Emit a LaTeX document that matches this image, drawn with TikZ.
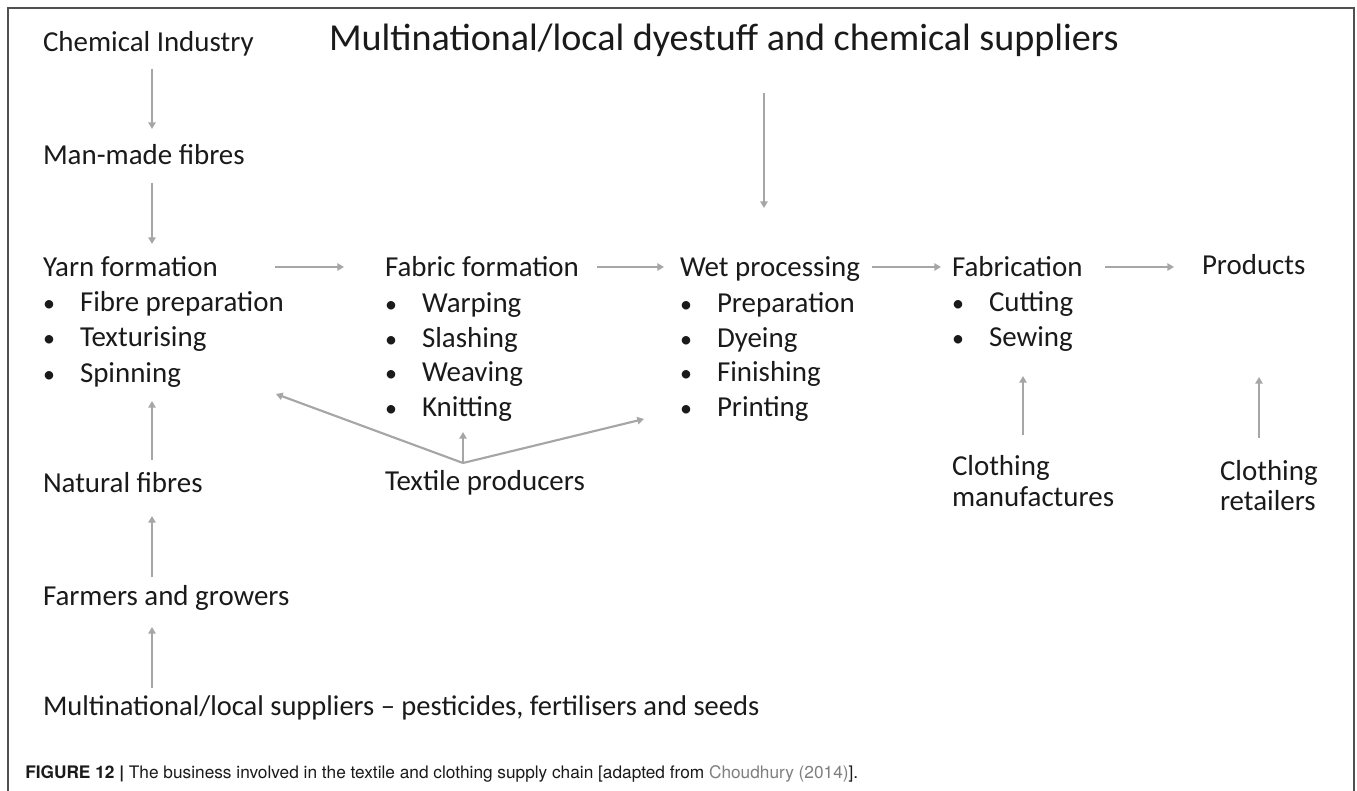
\documentclass[tikz,border=0pt]{standalone}
\usepackage{fontspec}
\setmainfont{Carlito}
\newfontfamily\capfont{TeX Gyre Heros}
\usetikzlibrary{arrows.meta}
\definecolor{arr}{HTML}{A6A6A6}
\definecolor{frm}{HTML}{505050}
\definecolor{txt}{HTML}{1A1A1A}
\definecolor{lnk}{HTML}{7F7F7F}
\tikzset{
  lbl/.style={anchor=base west, inner sep=0pt, outer sep=0pt, text=txt, font=\fontsize{21.7}{26}\selectfont},
  biglbl/.style={lbl, font=\fontsize{28.6}{34}\selectfont},
  bul/.style={anchor=base, inner sep=0pt, outer sep=0pt, text=txt, font=\fontsize{18}{22}\selectfont},
  flow/.style={draw=arr, line width=1.6pt, -{Triangle[length=5pt,width=5.5pt]}},
  capt/.style={anchor=base west, inner sep=0pt, font=\capfont\fontsize{12.95}{15}\selectfont, text=txt}
}
\newcommand{\bitem}[4]{%
  \node[bul] (#1b) at (#2+6,#3) {\textbullet};
  \node[lbl] (#1) at (#2+37,#3) {#4};}
\begin{document}
\begin{tikzpicture}[x=0.75pt,y=-0.75pt]
\useasboundingbox (0,0) rectangle (1357,791);
\fill[white] (0,0) rectangle (1357,791);
\draw[frm, line width=1.3pt] (8,795) -- (8,8) -- (1354,8) -- (1354,795);

% top-left column
\node[lbl] (chem) at (43,52) {Chemical Industry};
\node[lbl] (man) at (43,165) {Man-made fibres};
\node[lbl] (yarn) at (43,277) {Yarn formation};
\bitem{y1}{43}{312}{Fibre preparation}
\bitem{y2}{43}{347}{Texturising}
\bitem{y3}{43}{383}{Spinning}
\node[lbl] (nat) at (43,493) {Natural fibres};
\node[lbl] (farm) at (43,605) {Farmers and growers};
\node[lbl, font=\fontsize{21.4}{26}\selectfont] (msup) at (43,715) {Multinational/local suppliers -- pesticides, fertilisers and seeds};

% top middle
\node[biglbl] (dye) at (329,51) {Multinational/local dyestuff and chemical suppliers};

% fabric
\node[lbl] (fab) at (385,277) {Fabric formation};
\bitem{f1}{385}{313}{Warping}
\bitem{f2}{385}{348}{Slashing}
\bitem{f3}{385}{382}{Weaving}
\bitem{f4}{385}{417}{Knitting}
\node[lbl] (tex) at (385,490) {Textile producers};

% wet
\node[lbl] (wet) at (680,277) {Wet processing};
\bitem{w1}{680}{313}{Preparation}
\bitem{w2}{680}{348}{Dyeing}
\bitem{w3}{680}{382}{Finishing}
\bitem{w4}{680}{417}{Printing}

% fabrication
\node[lbl] (fabr) at (952,277) {Fabrication};
\bitem{c1}{952}{312}{Cutting}
\bitem{c2}{952}{347}{Sewing}
\node[lbl] (cman) at (952,475) {Clothing};
\node[lbl] (cman2) at (952,507) {manufactures};

% products
\node[lbl] (prod) at (1202,275) {Products};
\node[lbl] (cret) at (1220,480) {Clothing};
\node[lbl] (cret2) at (1220,511) {retailers};

% arrow coordinates
\coordinate (a1s) at (152,69);  \coordinate (a1e) at (152,129);
\coordinate (a2s) at (152,183); \coordinate (a2e) at (152,244);
\coordinate (a3s) at (152,460); \coordinate (a3e) at (152,401);
\coordinate (a4s) at (152,577); \coordinate (a4e) at (152,516);
\coordinate (a5s) at (152,688); \coordinate (a5e) at (152,627);
\coordinate (h1s) at (275,267); \coordinate (h1e) at (344,267);
\coordinate (h2s) at (597,267); \coordinate (h2e) at (664,267);
\coordinate (h3s) at (872,267); \coordinate (h3e) at (941,267);
\coordinate (h4s) at (1105,267); \coordinate (h4e) at (1174,267);
\coordinate (dvs) at (764,93);  \coordinate (dve) at (764,208);
\coordinate (tp) at (463,463);
\coordinate (tl) at (276,394); \coordinate (tu) at (463,432); \coordinate (tr) at (644,419);
\coordinate (cms) at (1023,435); \coordinate (cme) at (1023,376);
\coordinate (crs) at (1259,438); \coordinate (cre) at (1259,377);

\draw[flow] (a1s) -- (a1e);
\draw[flow] (a2s) -- (a2e);
\draw[flow] (a3s) -- (a3e);
\draw[flow] (a4s) -- (a4e);
\draw[flow] (a5s) -- (a5e);
\draw[flow] (h1s) -- (h1e);
\draw[flow] (h2s) -- (h2e);
\draw[flow] (h3s) -- (h3e);
\draw[flow] (h4s) -- (h4e);
\draw[flow] (dvs) -- (dve);
\draw[flow] (tp) -- (tl);
\draw[flow] (tp) -- (tu);
\draw[flow] (tp) -- (tr);
\draw[flow] (cms) -- (cme);
\draw[flow] (crs) -- (cre);

% caption
\node[capt] (cap) at (25,778) {\textbf{FIGURE 12} \textbf{|} The business involved in the textile and clothing supply chain [adapted from \textcolor{lnk}{Choudhury (2014)}].};
\end{tikzpicture}
\end{document}
